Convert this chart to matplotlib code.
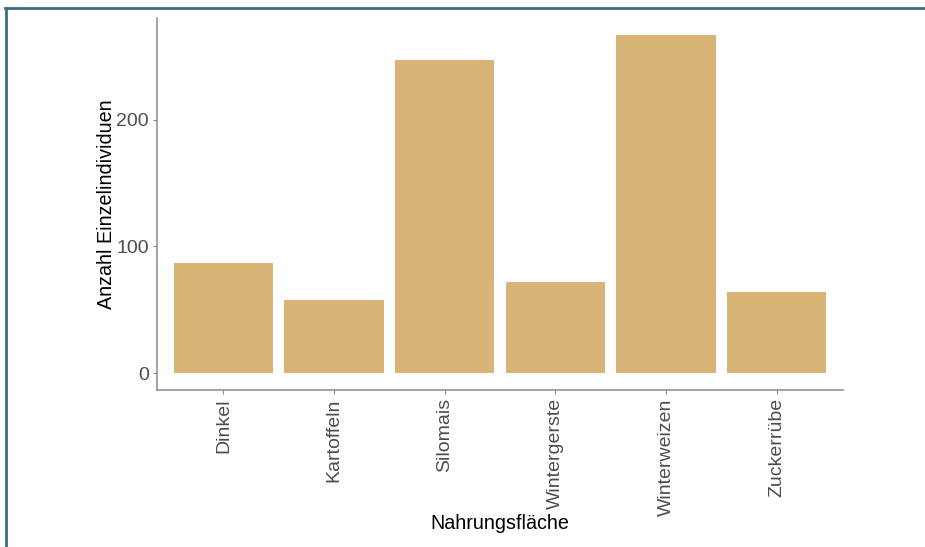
import matplotlib.pyplot as plt
from matplotlib.lines import Line2D

plt.rcParams['font.family'] = ['Liberation Sans', 'DejaVu Sans']

kulturen = ["Dinkel", "Kartoffeln", "Silomais", "Wintergerste", "Winterweizen", "Zuckerrübe"]
anzahl = [87, 58, 247, 72, 267, 64]

bar_color = "#d8b576"
spine_color = "#8a8a8a"
tick_text = "#4d4d4d"

fig = plt.figure(figsize=(9.25, 5.47), dpi=100)
ax = fig.add_axes([157 / 925, 1 - 390 / 547, (843 - 157) / 925, (390 - 18) / 547])

x = list(range(1, len(kulturen) + 1))
ax.bar(x, anzahl, width=0.9, color=bar_color)

# ggplot-style limits: 0.6 padding on discrete axis, 5% on continuous
ax.set_xlim(0.4, len(kulturen) + 0.6)
top = max(anzahl)
ax.set_ylim(-0.05 * top, top * 1.05)

ax.set_xticks(x)
ax.set_xticklabels(kulturen, rotation=90, va="top", ha="center")
ax.set_yticks([0, 100, 200])

for side in ("top", "right"):
    ax.spines[side].set_visible(False)
for side in ("left", "bottom"):
    ax.spines[side].set_color(spine_color)
    ax.spines[side].set_linewidth(1.1)

ax.tick_params(axis="both", colors=spine_color, length=3, width=0.8,
               labelcolor=tick_text, labelsize=14, pad=3)

ax.set_xlabel("Nahrungsfläche", fontsize=14.2, color="black", va="center")
ax.set_ylabel("Anzahl Einzelindividuen", fontsize=14.2, color="black", va="center")
ax.xaxis.set_label_coords(0.5, -0.36)
ax.yaxis.set_label_coords(-0.073, 0.5)

# dark frame on the left and top edge
frame_col = "#3e6b84"
fig.add_artist(Line2D([6 / 925, 6 / 925], [0, 1 - 7.5 / 547], transform=fig.transFigure,
                      color=frame_col, lw=2))
fig.add_artist(Line2D([5 / 925, 1], [1 - 7.5 / 547, 1 - 7.5 / 547], transform=fig.transFigure,
                      color=frame_col, lw=2))

fig.savefig("out.png", dpi=100)
